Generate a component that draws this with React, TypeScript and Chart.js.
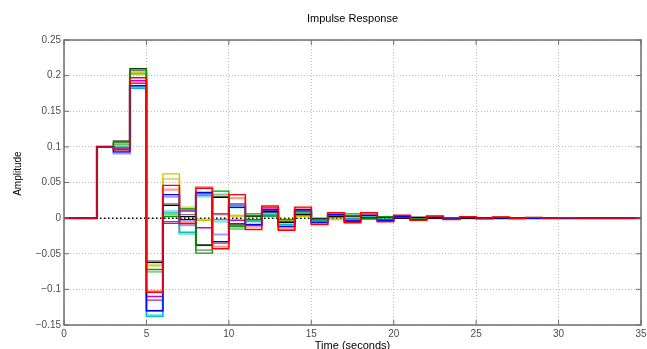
import React, { useEffect, useRef } from "react";
import { Chart, registerables } from "chart.js";

Chart.register(...registerables);

const TIME = [0, 1, 2, 3, 4, 5, 6, 7, 8, 9, 10, 11, 12, 13, 14, 15, 16, 17, 18, 19, 20, 21, 22, 23, 24, 25, 26, 27, 28, 29, 30, 31, 32, 33, 34, 35];
const X_TICKS = [0, 5, 10, 15, 20, 25, 30, 35];
const Y_TICKS = [-0.15, -0.1, -0.05, 0, 0.05, 0.1, 0.15, 0.2, 0.25];

const RED = [0, 0, 0.1, 0.096, 0.197, -0.104, 0.046, -0.0075, 0.042, -0.043, 0.033, -0.016, 0.017, -0.017, 0.0155, -0.009, 0.0075, -0.0065, 0.0075, -0.005, 0.004, -0.003, 0.003, -0.002, 0.002, -0.001, 0.0015, -0.0005, 0.001, 0, 0.0005, 0, 0, 0, 0, 0];
const BLUE = [0, 0, 0.1, 0.093, 0.186, -0.13, 0.033, -0.002, 0.036, -0.033, 0.015, -0.009, 0.012, -0.012, 0.012, -0.006, 0.005, -0.004, 0.004, -0.003, 0.002, -0.002, 0.001, -0.001, 0.001, 0, 0.0005, 0, 0, 0, 0, 0, 0, 0, 0, 0];
const GREEN = [0, 0, 0.1, 0.107, 0.209, -0.072, 0.002, 0.013, -0.049, 0.038, -0.012, 0.006, 0.003, -0.002, 0.009, -0.002, 0.005, 0.006, -0.001, 0.002, 0.002, -0.001, 0.001, 0, 0.001, 0, 0.001, 0, 0, 0, 0, 0, 0, 0, 0, 0];
const BLACK = [0, 0, 0.1, 0.108, 0.21, -0.062, 0.018, 0.002, -0.038, 0.029, -0.008, 0.003, 0.009, -0.006, 0.005, -0.001, 0.002, 0.003, 0, 0.001, 0, 0.001, 0, 0, 0, 0, 0, 0, 0, 0, 0, 0, 0, 0, 0, 0];
const CYAN = [0, 0, 0.1, 0.1, 0.182, -0.138, 0.0075, -0.02, 0.032, -0.002, 0.018, -0.004, 0.005, -0.009, 0.009, -0.004, 0.002, -0.001, 0.003, -0.002, 0.001, -0.001, 0.001, 0, 0.0005, 0, 0, 0, 0, 0, 0, 0, 0, 0, 0, 0];
const MAGENTA = [0, 0, 0.1, 0.099, 0.193, -0.11, -0.0075, 0.01, -0.0135, 0.006, -0.003, -0.002, 0.0145, -0.006, 0.005, -0.002, 0.002, -0.001, 0.0005, 0.001, 0, 0.001, 0, 0, 0, 0, 0, 0, 0, 0, 0, 0, 0, 0, 0, 0];
const YELLOW = [0, 0, 0.1, 0.105, 0.205, -0.067, 0.062, 0.013, -0.003, 0.006, 0.003, -0.003, 0.005, -0.003, 0.002, 0.0005, -0.002, 0.001, 0, 0.001, 0.002, 0, 0.001, 0, 0.001, 0, 0.0005, 0, 0, 0, 0, 0, 0, 0, 0, 0];
const PINK = [0, 0, 0.1, 0.097, 0.191, -0.102, 0.04, -0.005, 0.0435, -0.04, 0.028, -0.012, 0.014, -0.015, 0.014, -0.008, 0.007, -0.005, 0.006, -0.004, 0.003, -0.002, 0.002, -0.001, 0.001, 0, 0.001, 0, 0.0005, 0, 0, 0, 0, 0, 0, 0];
const LIGHT_BLUE = [0, 0, 0.1, 0.091, 0.185, -0.13, 0.03, -0.01, 0.034, -0.023, 0.018, -0.009, 0.009, -0.011, 0.011, -0.006, 0.005, -0.003, 0.004, -0.003, 0.002, -0.001, 0.001, -0.001, 0.001, 0, 0, 0, 0, 0, 0, 0, 0, 0, 0, 0];
const LIGHT_GREEN = [0, 0, 0.1, 0.103, 0.203, -0.075, 0.005, 0.012, -0.038, 0.033, -0.015, 0.003, 0.003, -0.004, 0.008, -0.002, 0.004, 0.003, -0.001, 0.001, 0.001, 0, 0.001, 0, 0, 0, 0, 0, 0, 0, 0, 0, 0, 0, 0, 0];
const GREY = [0, 0, 0.1, 0.106, 0.207, -0.06, 0.02, 0.005, -0.045, 0.03, -0.01, 0.002, 0.008, -0.005, 0.006, -0.003, 0.002, 0.002, 0, 0.001, 0, 0, 0, 0, 0, 0, 0, 0, 0, 0, 0, 0, 0, 0, 0, 0];
const PURPLE = [0, 0, 0.1, 0.098, 0.189, -0.115, -0.005, -0.02, 0.0355, -0.035, 0.02, -0.01, 0.011, -0.012, 0.011, -0.006, 0.005, -0.004, 0.004, -0.002, 0.002, -0.001, 0.001, 0, 0, 0, 0, 0, 0, 0, 0, 0, 0, 0, 0, 0];
const LIGHT_CYAN = [0, 0, 0.1, 0.095, 0.184, -0.136, 0.01, -0.022, 0.03, -0.005, 0.015, -0.005, 0.006, -0.008, 0.008, -0.004, 0.003, -0.002, 0.002, -0.001, 0.001, 0, 0, 0, 0, 0, 0, 0, 0, 0, 0, 0, 0, 0, 0, 0];
const KHAKI = [0, 0, 0.1, 0.104, 0.202, -0.065, 0.055, 0.015, -0.002, 0.005, 0.004, -0.002, 0.006, -0.002, 0.003, 0, -0.001, 0.001, 0, 0.001, 0.001, 0, 0, 0, 0, 0, 0, 0, 0, 0, 0, 0, 0, 0, 0, 0];
const STEADY = [0, 0, 0, 0, 0, 0, 0, 0, 0, 0, 0, 0, 0, 0, 0, 0, 0, 0, 0, 0, 0, 0, 0, 0, 0, 0, 0, 0, 0, 0, 0, 0, 0, 0, 0, 0];

const SERIES: [number[], string, number][] = [
  [RED, "#ff0000", 1.4],
  [BLUE, "#0000ff", 1.3],
  [GREEN, "#00a000", 1.3],
  [BLACK, "#000000", 1.2],
  [CYAN, "#00bfbf", 1.3],
  [MAGENTA, "#cc00cc", 1.3],
  [YELLOW, "#c8c800", 1.3],
  [PINK, "rgba(255,60,60,0.5)", 2.2],
  [LIGHT_BLUE, "rgba(60,60,255,0.5)", 2.2],
  [LIGHT_GREEN, "rgba(0,170,0,0.5)", 2.2],
  [GREY, "#7a7a7a", 1.3],
  [PURPLE, "#9b2d9b", 1.3],
  [LIGHT_CYAN, "rgba(0,190,190,0.45)", 2.2],
  [KHAKI, "rgba(190,190,0,0.5)", 2.2],
];

const Y_TITLE = "Amplitude";

const fmt = (v: number) => {
  const r = Math.round(v * 100) / 100;
  if (r === 0) return "0";
  return String(r).replace("-", "\u2212");
};

export default function App() {
  const ref = useRef<HTMLCanvasElement | null>(null);

  useEffect(() => {
    if (!ref.current) return;
    // sample y[k] is held from t = k to t = k + 1
    const datasets: any[] = SERIES.map(([vals, color, w]) => ({
      data: TIME.map((t, i) => ({ x: t, y: vals[i] })),
      borderColor: color,
      borderWidth: w,
      stepped: "before",
      pointRadius: 0,
      fill: false,
    }));
    datasets.push({
      data: TIME.map((t, i) => ({ x: t, y: STEADY[i] })),
      borderColor: "#000000",
      borderWidth: 1.5,
      borderDash: [1.5, 2.5],
      pointRadius: 0,
      fill: false,
    });

    const font = "'Liberation Sans', Arial, Helvetica, sans-serif";

    const frame = {
      id: "frame",
      afterDatasetsDraw(chart: any) {
        const { ctx, chartArea: a, scales } = chart;
        ctx.save();
        ctx.strokeStyle = "#6f6f6f";
        ctx.lineWidth = 1.5;
        ctx.strokeRect(a.left, a.top, a.right - a.left, a.bottom - a.top);
        ctx.lineWidth = 1;
        const L = 5;
        ctx.beginPath();
        X_TICKS.forEach((t) => {
          const x = scales.x.getPixelForValue(t);
          ctx.moveTo(x, a.bottom);
          ctx.lineTo(x, a.bottom - L);
          ctx.moveTo(x, a.top);
          ctx.lineTo(x, a.top + L);
        });
        Y_TICKS.forEach((v) => {
          const y = scales.y.getPixelForValue(v);
          ctx.moveTo(a.left, y);
          ctx.lineTo(a.left + L, y);
          ctx.moveTo(a.right, y);
          ctx.lineTo(a.right - L, y);
        });
        ctx.stroke();
        // y-axis title, placed as in the reference (slightly above the axis centre)
        ctx.fillStyle = "#000";
        ctx.font = `10px ${font}`;
        ctx.textAlign = "center";
        ctx.textBaseline = "middle";
        ctx.translate(18, scales.y.getPixelForValue(0.0625));
        ctx.rotate(-Math.PI / 2);
        ctx.fillText(Y_TITLE, 0, 0);
        ctx.restore();
      },
    };

    const chart = new Chart(ref.current, {
      type: "line",
      data: { datasets },
      plugins: [frame],
      options: {
        responsive: false,
        animation: false,
        devicePixelRatio: 1,
        layout: { padding: { left: 0, right: 6, top: 0, bottom: 0 } },
        plugins: {
          legend: { display: false },
          tooltip: { enabled: false },
          title: {
            display: true,
            text: "Impulse Response",
            fullSize: false,
            color: "#000",
            font: { family: font, size: 11, weight: "normal" },
            padding: { top: 12, bottom: 14.8 },
          },
        },
        scales: {
          x: {
            type: "linear",
            min: 0,
            max: 35,
            afterFit: (s: any) => {
              s.height = 37;
              s.paddingRight = 0;
              s.paddingLeft = 0;
            },
            afterBuildTicks: (s: any) => {
              s.ticks = X_TICKS.map((v) => ({ value: v }));
            },
            ticks: {
              autoSkip: false,
              maxRotation: 0,
              padding: 3,
              color: "#4d4d4d",
              font: { family: font, size: 10 },
              callback: (v: any) => fmt(Number(v)),
            },
            grid: { color: "#bdbdbd", lineWidth: 1, drawTicks: false },
            border: { display: false, dash: [1, 2] },
            title: {
              display: true,
              text: "Time (seconds)",
              color: "#000",
              font: { family: font, size: 11 },
              padding: { top: 0, bottom: 9 },
            },
          },
          y: {
            type: "linear",
            min: -0.15,
            max: 0.25,
            afterFit: (s: any) => {
              s.width = 64;
            },
            afterBuildTicks: (s: any) => {
              s.ticks = Y_TICKS.map((v) => ({ value: v }));
            },
            ticks: {
              autoSkip: false,
              padding: 3,
              color: "#4d4d4d",
              font: { family: font, size: 10 },
              callback: (v: any) => fmt(Number(v)),
            },
            grid: { color: "#bdbdbd", lineWidth: 1, drawTicks: false },
            border: { display: false, dash: [1, 2] },
          },
        },
      },
    } as any);
    return () => chart.destroy();
  }, []);

  return (
    <div
      style={{
        position: "fixed",
        left: 0,
        top: 0,
        width: 647,
        height: 349,
        overflow: "hidden",
        background: "#fff",
      }}
    >
      <canvas ref={ref} width={647} height={362} style={{ display: "block" }} />
    </div>
  );
}
